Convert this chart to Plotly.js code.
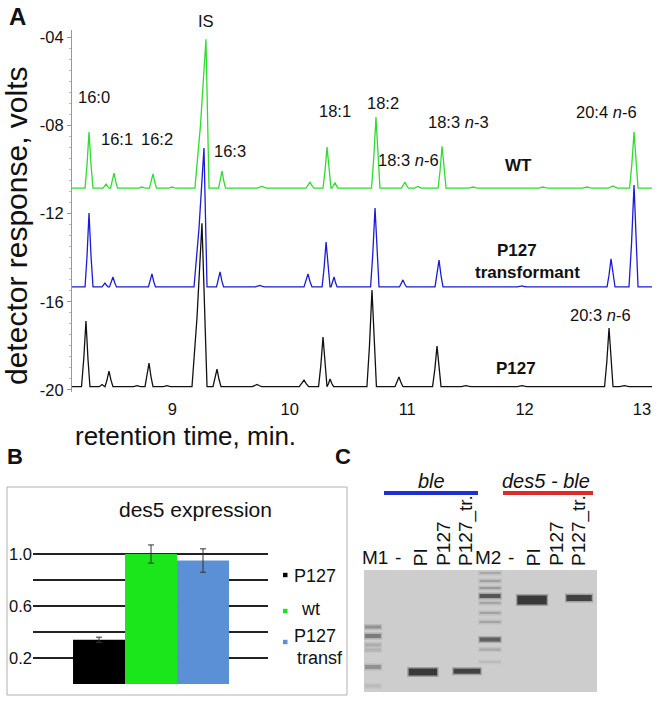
<!DOCTYPE html>
<html><head><meta charset="utf-8">
<script src="https://cdn.plot.ly/plotly-3.0.1.min.js"></script>
<style>html,body{margin:0;padding:0;background:#fff}</style>
</head><body><div id="chart" style="width:661px;height:702px"></div>
<script>
const W = 661, H = 702;
const FONT = 'Liberation Sans, Arial, sans-serif';

// ---------- Panel A: chromatograms ----------
// peaks: [retention time (min), height above baseline (V), left half-width, right half-width]
const wtBaseline = -10.85;
const wtPeaks = [
  [8.290, 2.54, .034, .034], [8.435, 0.18, .026, .026], [8.503, 0.68, .030, .030],
  [8.741, 0.05, .030, .030], [8.835, 0.65, .030, .030], [8.997, 0.05, .030, .030],
  [9.286, 6.75, .094, .026], [9.423, 0.77, .030, .030], [9.763, 0.08, .040, .040],
  [10.172, 0.27, .034, .034], [10.317, 1.86, .034, .034], [10.385, 0.25, .026, .026],
  [10.734, 3.22, .038, .034], [10.981, 0.27, .030, .030], [11.092, 0.08, .030, .030],
  [11.297, 1.90, .034, .034], [11.561, 0.05, .040, .040], [12.157, 0.05, .040, .040],
  [12.532, 0.05, .040, .040], [12.753, 0.10, .040, .040], [12.932, 2.54, .038, .034]
];
const trBaseline = -15.33;
const trPeaks = [
  [8.290, 3.35, .034, .034], [8.426, 0.18, .026, .026], [8.494, 0.45, .030, .030],
  [8.826, 0.59, .030, .030], [9.269, 6.30, .085, .026], [9.406, 0.68, .030, .030],
  [9.746, 0.07, .040, .040], [10.155, 0.59, .034, .034], [10.309, 2.04, .034, .034],
  [10.377, 0.45, .026, .026], [10.726, 3.58, .038, .034], [10.964, 0.32, .030, .030],
  [11.271, 1.22, .034, .034], [11.978, 0.05, .040, .040], [12.736, 1.27, .034, .034],
  [12.932, 4.62, .043, .034]
];
const p127Baseline = -19.85;
const p127Peaks = [
  [8.264, 2.98, .038, .034], [8.401, 0.10, .025, .025], [8.460, 0.71, .034, .034],
  [8.699, 0.05, .030, .030], [8.801, 1.07, .034, .034], [8.954, 0.05, .030, .030],
  [9.252, 7.41, .085, .043], [9.380, 0.80, .034, .034], [9.721, 0.10, .040, .040],
  [10.121, 0.30, .040, .040], [10.283, 2.25, .038, .034], [10.343, 0.35, .026, .030],
  [10.700, 4.38, .043, .038], [10.930, 0.44, .034, .034], [11.254, 1.84, .038, .034],
  [11.500, 0.05, .040, .040], [11.978, 0.05, .040, .040], [12.719, 2.66, .038, .034],
  [12.850, 0.05, .040, .040]
];
const xTickVals = [9, 10, 11, 12, 13];
const yTickVals = [-4, -8, -12, -16, -20];
const yTickText = ['-04', '-08', '-12', '-16', '-20'];

// ---------- Panel B: des5 expression ----------
const barLabels = ['P127', 'wt', 'P127 transf'];
const barValues = [0.34, 1.00, 0.95];
const barErrors = [0.02, 0.07, 0.09];
const barColors = ['#000000', '#1be51b', '#5b8fd6'];
const bTickVals = [0, 0.2, 0.4, 0.6, 0.8, 1.0, 1.2];
const bTickText = ['', '0.2', '', '0.6', '', '1.0', ''];

// ---------- Panel C: gel ----------
const laneLabels = ['M1', '-', 'PI', 'P127', 'P127_tr.', 'M2', '-', 'PI', 'P127', 'P127_tr.'];
const laneRotated = [false, false, true, true, true, false, false, true, true, true];
// bands: [lane position, size (bp), width (lanes), thickness (px), darkness 0..1]
const bands = [
  [-0.09, 1371, 0.50, 3, 0.40], [-0.09, 1094, 0.50, 4, 0.55], [-0.09, 872, 0.50, 3, 0.22],
  [-0.09, 768, 0.50, 3, 0.18], [-0.09, 500, 0.50, 4, 0.40], [-0.09, 310, 0.50, 3, 0.12],
  [2.12, 441, 0.90, 7, 1.00], [4.07, 450, 0.85, 5, 0.95],
  [5.09, 5360, 0.66, 2, 0.25], [5.09, 4380, 0.66, 2, 0.30], [5.09, 3670, 0.66, 2, 0.35],
  [5.09, 3000, 0.66, 4, 0.80], [5.09, 2520, 0.66, 2, 0.28], [5.09, 1955, 0.66, 2, 0.28],
  [5.09, 1558, 0.66, 2, 0.28], [5.09, 1000, 0.66, 4, 0.75], [5.09, 776, 0.66, 2, 0.25],
  [5.09, 568, 0.66, 2, 0.12],
  [6.95, 2710, 0.93, 9, 1.00], [9.03, 2850, 0.80, 6, 0.95]
];
const sizeMarks = [3000, 1000, 500];
const sizeMarkText = ['3 kb', '1 kb', '500 b'];

// ---------- build ----------
const X0 = 8.145, X1 = 13.085;
function chrom(peaks, base) {
  const xs = [X0], ys = [base];
  peaks.forEach(([t, h, wl, wr]) => {
    xs.push(t - wl, t - wl * 0.5, t, t + wr * 0.5, t + wr);
    ys.push(base, base + h * 0.42, base + h, base + h * 0.42, base);
  });
  xs.push(X1); ys.push(base);
  return {xs, ys};
}
const g = chrom(wtPeaks, wtBaseline), b = chrom(trPeaks, trBaseline), k = chrom(p127Peaks, p127Baseline);

const LANE_PX = 22.6;
const gelX = {x0: -11 / LANE_PX, x1: 222 / LANE_PX};

function gray(d) { const v = Math.round(205 * (1 - d) + 15 * d); return `rgb(${v},${v},${v})`; }

const traces = [
  {x: g.xs, y: g.ys, type: 'scatter', mode: 'lines', line: {color: '#2fdc2f', width: 1.3}, xaxis: 'x', yaxis: 'y', hoverinfo: 'skip'},
  {x: b.xs, y: b.ys, type: 'scatter', mode: 'lines', line: {color: '#1a1ad8', width: 1.3}, xaxis: 'x', yaxis: 'y', hoverinfo: 'skip'},
  {x: k.xs, y: k.ys, type: 'scatter', mode: 'lines', line: {color: '#111111', width: 1.3}, xaxis: 'x', yaxis: 'y', hoverinfo: 'skip'},
  {x: [0, 1, 2], y: barValues, type: 'bar', width: 1, marker: {color: barColors, line: {width: 0}},
   error_y: {type: 'data', array: barErrors, color: '#333', thickness: 1, width: 3}, xaxis: 'x2', yaxis: 'y2', text: barLabels, textposition: 'none', hoverinfo: 'skip'},
  {x: bands.map(d => d[0]), y: bands.map(d => d[1]), type: 'scatter', mode: 'markers', xaxis: 'x3', yaxis: 'y3', hoverinfo: 'skip',
   marker: {symbol: 'line-ew', size: bands.map(d => d[2] * LANE_PX + 2),
            line: {width: bands.map(d => d[3] + 3), color: bands.map(d => gray(d[4] * 0.35))}}},
  {x: bands.map(d => d[0]), y: bands.map(d => d[1]), type: 'scatter', mode: 'markers', xaxis: 'x3', yaxis: 'y3', hoverinfo: 'skip',
   marker: {symbol: 'line-ew', size: bands.map(d => d[2] * LANE_PX),
            line: {width: bands.map(d => d[3]), color: bands.map(d => gray(d[4]))}}}
];

function px(x) { return x / W; }
function py(y) { return 1 - y / H; }
function ann(text, x, y, size, o = {}) {
  return Object.assign({text, x: px(x), y: py(y), xref: 'paper', yref: 'paper', showarrow: false,
    xanchor: 'center', yanchor: 'middle', font: {family: FONT, size, color: '#111'}}, o);
}

const annotations = [
  ann('<b>A</b>', 17, 17, 24),
  ann('IS', 206, 21, 16.5),
  ann('16:0', 94, 97, 16.5),
  ann('16:1', 117, 139, 16.5),
  ann('16:2', 157, 139, 16.5),
  ann('16:3', 230, 151, 16.5),
  ann('18:1', 335, 111, 16.5),
  ann('18:2', 383, 103, 16.5),
  ann('18:3 <i>n</i>-6', 408, 160, 16.5),
  ann('18:3 <i>n</i>-3', 458, 122, 16.5),
  ann('20:4 <i>n</i>-6', 606, 112, 16.5),
  ann('<b>WT</b>', 518, 166, 17),
  ann('<b>P127</b>', 517, 250, 17),
  ann('<b>transformant</b>', 527, 272, 17),
  ann('20:3 <i>n</i>-6', 600, 315, 16.5),
  ann('<b>P127</b>', 516, 368, 17),
  ann('detector response, volts', 16, 226, 30, {textangle: -90}),
  ann('retention time, min.', 186, 436, 26),
  // panel B
  ann('<b>B</b>', 15, 457, 22),
  ann('des5 expression', 195, 509, 21),
  ann('P127', 292, 576, 18, {xanchor: 'left'}),
  ann('wt', 299, 609, 18, {xanchor: 'left'}),
  ann('P127', 292, 636, 18, {xanchor: 'left'}),
  ann('transf', 295, 658, 18, {xanchor: 'left'}),
  // panel C
  ann('<b>C</b>', 343, 457, 22),
  ann('<i>ble</i>', 432, 481, 20),
  ann('<i>des5 - ble</i>', 546, 481, 20)
];
laneLabels.forEach((t, i) => {
  annotations.push({text: t, x: i, xref: 'x3', y: py(laneRotated[i] ? 568 : 570), yref: 'paper', showarrow: false,
    xanchor: 'center', yanchor: 'bottom', textangle: laneRotated[i] ? -90 : 0,
    font: {family: FONT, size: 19, color: '#111'}});
});
sizeMarks.forEach((bp, i) => {
  annotations.push({text: sizeMarkText[i], x: 233 / LANE_PX, xref: 'x3', y: Math.log10(bp), yref: 'y3',
    showarrow: false, xanchor: 'left', yanchor: 'middle', font: {family: FONT, size: 17, color: '#111'}});
});

const shapes = [
  {type: 'rect', xref: 'x3 domain', yref: 'y3 domain', x0: 0, x1: 1, y0: 0, y1: 1, fillcolor: '#cdcdcd', line: {width: 0}, layer: 'below'},
  {type: 'rect', xref: 'paper', yref: 'paper', x0: px(7), x1: px(347), y0: py(695), y1: py(487), line: {color: '#b0b0b0', width: 1}, layer: 'below'},
  {type: 'line', xref: 'paper', yref: 'paper', x0: px(384), x1: px(478), y0: py(493), y1: py(493), line: {color: '#1c2fd0', width: 4}},
  {type: 'line', xref: 'paper', yref: 'paper', x0: px(503), x1: px(593), y0: py(493), y1: py(493), line: {color: '#dd2b2b', width: 4}}
];
barColors.forEach((c, i) => {
  const yy = [575, 611, 642][i];
  shapes.push({type: 'rect', xref: 'paper', yref: 'paper', x0: px(283), x1: px(287.5), y0: py(yy + 2.2), y1: py(yy - 2.2), fillcolor: c, line: {width: 0}});
});
sizeMarks.forEach(bp => {
  shapes.push({type: 'line', xref: 'x3', yref: 'y3', x0: 220 / LANE_PX, x1: 232 / LANE_PX, y0: Math.log10(bp), y1: Math.log10(bp), line: {color: '#111', width: 2}});
});

const layout = {
  width: W, height: H, margin: {l: 0, r: 0, t: 0, b: 0}, showlegend: false,
  paper_bgcolor: '#fff', plot_bgcolor: 'rgba(0,0,0,0)',
  font: {family: FONT, color: '#111'},
  xaxis: {domain: [px(72), px(652)], range: [X0, X1], showgrid: false, zeroline: false, showline: false,
    tickvals: xTickVals, ticks: 'outside', ticklen: 2, tickcolor: 'rgba(0,0,0,0)', tickfont: {size: 16.5, family: FONT, color: '#111'}},
  yaxis: {domain: [py(392.2), py(30.4)], range: [-20.1, -3.7], showgrid: false, zeroline: false,
    showline: true, linecolor: '#999', linewidth: 1, ticks: 'outside', ticklen: 4, tickcolor: '#999',
    tickvals: yTickVals, ticktext: yTickText, tickfont: {size: 16.5, family: FONT, color: '#111'},
    minor: {dtick: 0.5, ticks: 'outside', ticklen: 2, tickcolor: '#bbb', showgrid: false}},
  xaxis2: {domain: [px(33), px(268)], range: [-1.27, 3.25], visible: false, anchor: 'y2'},
  yaxis2: {domain: [py(684.6), py(527.4)], range: [-0.005, 1.205], anchor: 'x2', tickvals: bTickVals, ticktext: bTickText,
    showgrid: true, gridcolor: '#222', gridwidth: 1.2, zeroline: false, showline: false, ticks: '',
    tickfont: {size: 16.5, family: FONT, color: '#111'}},
  xaxis3: {domain: [px(364), px(597)], range: [gelX.x0, gelX.x1], visible: false, anchor: 'y3'},
  yaxis3: {domain: [py(692), py(570)], type: 'log', range: [2.425, 3.762], visible: false, anchor: 'x3'},
  annotations, shapes
};

Plotly.newPlot('chart', traces, layout, {staticPlot: true, displayModeBar: false});
</script></body></html>
